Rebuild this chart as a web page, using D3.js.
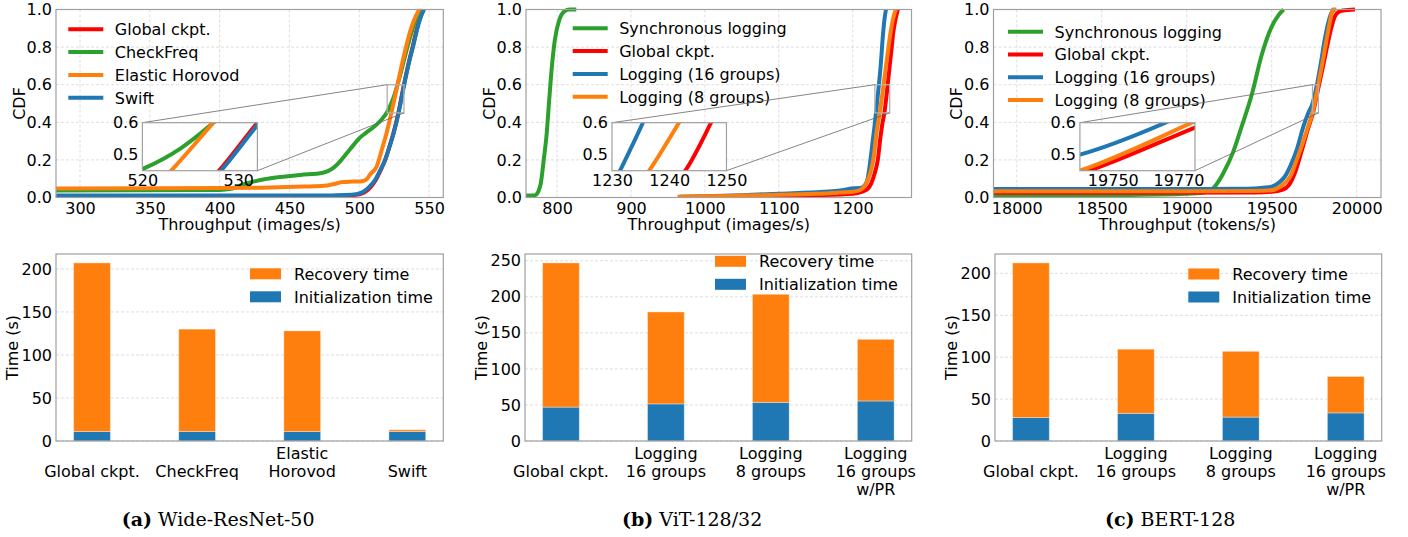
<!DOCTYPE html>
<html>
<head>
<meta charset="utf-8">
<script src="https://cdn.jsdelivr.net/npm/d3@7"></script>
<style>
  body { margin: 0; background: #fff; }
</style>
</head>
<body>
<svg id="chart" width="1408" height="537"></svg>
<script>
// ---- CDF data: [throughput, cdf] ----
// (a) Wide-ResNet-50
const wrnGlobal = [[282,0.008],[470,0.008],[490,0.011],[498,0.015],[503.5,0.027],[507.5,0.05],[511.6,0.09],[515.2,0.143],[518.6,0.2],[521.6,0.27],[524.4,0.34],[528,0.45],[532,0.6],[535.5,0.72],[538.5,0.81],[541,0.89],[543.3,0.95],[546,1.0]];
const wrnCheckFreq = [[282,0.037],[400,0.04],[408,0.046],[415,0.065],[422,0.08],[432,0.097],[441,0.107],[458,0.12],[474,0.132],[481,0.155],[486,0.19],[491,0.235],[496,0.28],[500,0.315],[505,0.345],[512,0.385],[516,0.415],[520,0.455],[524,0.52],[527.4,0.6],[531,0.7],[534.5,0.8],[537.5,0.88],[540.5,0.945],[544.5,1.0]];
const wrnElastic = [[282,0.048],[400,0.05],[430,0.052],[460,0.058],[475,0.062],[482,0.072],[488,0.082],[495,0.085],[502,0.087],[505,0.095],[508,0.125],[512.5,0.165],[516,0.25],[519.8,0.35],[523,0.45],[527.4,0.6],[530.3,0.7],[533.5,0.8],[536.3,0.88],[539.3,0.944],[543,1.0]];
const wrnSwift = [[282,0.01],[470,0.01],[490,0.013],[498,0.018],[503,0.031],[507,0.055],[511.3,0.093],[515,0.145],[518.5,0.2],[521.7,0.27],[524.6,0.34],[528.2,0.45],[532.2,0.6],[535.7,0.72],[538.8,0.81],[541.3,0.89],[543.6,0.95],[546.4,1.0]];

// (b) ViT-128/32
const vitSync = [[758,0.01],[768,0.01],[772,0.016],[775,0.035],[778,0.075],[782,0.2],[786,0.34],[789.4,0.52],[793,0.696],[797,0.838],[803,0.944],[810,0.99],[817,1.0],[826,1.0]];
const vitGlobal = [[965,0.003],[1050,0.005],[1100,0.008],[1150,0.012],[1200,0.02],[1212,0.03],[1220,0.045],[1225,0.075],[1229,0.12],[1233.9,0.2],[1237.5,0.32],[1240,0.39],[1242.8,0.45],[1247.3,0.6],[1250,0.7],[1252.5,0.79],[1254.7,0.873],[1258,0.95],[1261,1.0]];
const vitLog16 = [[966,0.004],[1000,0.006],[1050,0.012],[1100,0.02],[1160,0.03],[1190,0.042],[1198,0.048],[1210,0.05],[1215,0.06],[1219.5,0.09],[1224,0.2],[1227,0.3],[1229.5,0.38],[1231.4,0.45],[1235.4,0.6],[1237.8,0.7],[1241,0.87],[1243,0.95],[1245,1.0]];
const vitLog8 = [[963,0.004],[1000,0.006],[1050,0.01],[1100,0.014],[1150,0.02],[1200,0.03],[1210,0.04],[1216,0.06],[1221,0.1],[1225,0.15],[1228.5,0.22],[1232,0.34],[1236.5,0.45],[1241.7,0.6],[1245,0.7],[1248,0.79],[1251,0.873],[1254.5,0.95],[1258.3,1.0]];

// (c) BERT-128
const bertSync = [[17862,0.008],[18500,0.012],[19000,0.02],[19100,0.027],[19156,0.049],[19186,0.084],[19215,0.129],[19274,0.244],[19323,0.377],[19382,0.545],[19441,0.758],[19500,0.909],[19540,0.97],[19570,1.0]];
const bertGlobal = [[17862,0.025],[19400,0.026],[19500,0.03],[19560,0.04],[19600,0.065],[19640,0.14],[19680,0.26],[19715,0.37],[19740,0.44],[19775,0.585],[19800,0.69],[19825,0.8],[19850,0.9],[19870,0.96],[19890,0.985],[19920,0.995],[19990,1.0]];
const bertLog16 = [[17862,0.045],[19000,0.045],[19300,0.046],[19400,0.048],[19450,0.052],[19500,0.058],[19549,0.084],[19580,0.115],[19608,0.164],[19647,0.253],[19686,0.377],[19715,0.45],[19740,0.5],[19766,0.6],[19790,0.72],[19810,0.83],[19830,0.92],[19850,0.98],[19870,1.0]];
const bertLog8 = [[17862,0.033],[19000,0.033],[19400,0.034],[19500,0.038],[19549,0.057],[19580,0.08],[19608,0.11],[19647,0.2],[19686,0.3],[19715,0.38],[19740,0.45],[19774,0.6],[19795,0.7],[19815,0.8],[19835,0.9],[19848,0.96],[19858,1.0],[19880,1.0]];

const cdfTicks = [0, 0.2, 0.4, 0.6, 0.8, 1.0];
const wrnTicks = [300, 350, 400, 450, 500, 550];
const vitTicks = [800, 900, 1000, 1100, 1200];
const bertTicks = [18000, 18500, 19000, 19500, 20000];

// ---- recovery bar data (seconds) ----
const wrnCats = [["", "Global ckpt."], ["", "CheckFreq"], ["Elastic", "Horovod"], ["", "Swift"]];
const wrnInit = [11, 11, 11, 11];
const wrnRecovery = [196, 119, 117, 2];

const logCats = [["", "Global ckpt."], ["Logging", "16 groups"], ["Logging", "8 groups"], ["Logging", "16 groups", "w/PR"]];
const vitInit = [47, 51.5, 53.5, 55.5];
const vitRecovery = [200, 127.5, 150, 85.5];
const bertInit = [28, 33, 28.5, 33.5];
const bertRecovery = [184.5, 76.5, 78.5, 43.5];

const timeTicks200 = [0, 50, 100, 150, 200];
const timeTicks250 = [0, 50, 100, 150, 200, 250];

// ---- styling ----
const FONT = '"DejaVu Sans", sans-serif';
const FS = 16;
const RED = "#ff0000", GREEN = "#2ca02c", ORANGE = "#ff7f0e", BLUE = "#1f77b4";
const SPINE = "#a0a0a0";
const GRID = "#d6d6d6";

const svg = d3.select("#chart");

function styleAxis(g) {
  g.select(".domain").remove();
  g.attr("font-family", FONT).attr("font-size", FS);
  g.selectAll("text").attr("fill", "#000");
}

// CDF panel
function drawCdf(p) {
  const top = 9.5, bottom = 197.5;
  const x = d3.scaleLinear().domain(p.xDomain).range([p.left, p.right]);
  const y = d3.scaleLinear().domain([0, 1]).range([bottom, top]);
  const w = p.right - p.left;

  svg.append("clipPath").attr("id", "clip-" + p.id)
    .append("rect").attr("x", p.left).attr("y", top - 3)
    .attr("width", w).attr("height", bottom - top + 3);

  const g = svg.append("g");

  // grid
  g.selectAll("line.gx").data(p.xTicks).join("line")
    .attr("x1", d => x(d)).attr("x2", d => x(d))
    .attr("y1", top).attr("y2", bottom)
    .attr("stroke", GRID).attr("stroke-width", 0.8).attr("stroke-dasharray", "3,2");
  g.selectAll("line.gy").data(cdfTicks).join("line")
    .attr("x1", p.left).attr("x2", p.right)
    .attr("y1", d => y(d)).attr("y2", d => y(d))
    .attr("stroke", GRID).attr("stroke-width", 0.8).attr("stroke-dasharray", "3,2");

  const line = d3.line().x(d => x(d[0])).y(d => y(d[1])).curve(d3.curveMonotoneX);

  g.append("g").attr("clip-path", `url(#clip-${p.id})`)
    .selectAll("path").data(p.series).join("path")
    .attr("d", s => line(s.data))
    .attr("fill", "none").attr("stroke", s => s.color).attr("stroke-width", 4);

  // spines
  g.append("rect").attr("x", p.left).attr("y", top).attr("width", w).attr("height", bottom - top)
    .attr("fill", "none").attr("stroke", SPINE).attr("stroke-width", 1.2);

  g.append("g").attr("transform", `translate(0,${bottom})`)
    .call(d3.axisBottom(x).tickValues(p.xTicks).tickSize(0).tickPadding(5.5).tickFormat(d3.format("d")))
    .call(styleAxis);
  g.append("g").attr("transform", `translate(${p.left},0)`)
    .call(d3.axisLeft(y).tickValues(cdfTicks).tickSize(0).tickPadding(4).tickFormat(d3.format(".1f")))
    .call(styleAxis);

  g.append("text").attr("x", (p.left + p.right) / 2).attr("y", 229.5)
    .attr("text-anchor", "middle").attr("font-family", FONT).attr("font-size", FS)
    .text(p.xLabel);
  g.append("text").attr("transform", `translate(${p.left - 31.5},${(top + bottom) / 2}) rotate(-90)`)
    .attr("text-anchor", "middle").attr("font-family", FONT).attr("font-size", FS)
    .text("CDF");

  // legend
  p.series.forEach((s, i) => {
    const ly = p.legendY + i * 22.8;
    g.append("line").attr("x1", p.legendX).attr("x2", p.legendX + 35)
      .attr("y1", ly).attr("y2", ly).attr("stroke", s.color).attr("stroke-width", 4);
    g.append("text").attr("x", p.legendX + 46.5).attr("y", ly + 5.8)
      .attr("font-family", FONT).attr("font-size", FS).text(s.label);
  });

  // zoomed inset
  const ix0 = p.left + 0.223 * w, ix1 = p.left + 0.52 * w;
  const iy0 = 122.7, iy1 = 170.7;
  const ixs = d3.scaleLinear().domain(p.inset.x).range([ix0, ix1]);
  const iys = d3.scaleLinear().domain([0.45, 0.6]).range([iy1, iy0]);

  const rx0 = x(p.inset.x[0]), rx1 = x(p.inset.x[1]);
  const ry0 = y(0.6), ry1 = y(0.45);
  g.append("rect").attr("x", rx0).attr("y", ry0).attr("width", rx1 - rx0).attr("height", ry1 - ry0)
    .attr("fill", "none").attr("stroke", "#b0b0b0").attr("stroke-width", 1.3);
  g.append("line").attr("x1", rx0).attr("y1", ry0).attr("x2", ix0).attr("y2", iy0)
    .attr("stroke", "#666").attr("stroke-width", 0.8);
  g.append("line").attr("x1", rx1).attr("y1", ry1).attr("x2", ix1).attr("y2", iy1)
    .attr("stroke", "#666").attr("stroke-width", 0.8);

  svg.append("clipPath").attr("id", "iclip-" + p.id)
    .append("rect").attr("x", ix0).attr("y", iy0).attr("width", ix1 - ix0).attr("height", iy1 - iy0);

  const ig = svg.append("g");
  ig.append("rect").attr("x", ix0).attr("y", iy0).attr("width", ix1 - ix0).attr("height", iy1 - iy0)
    .attr("fill", "#fff");
  const iline = d3.line().x(d => ixs(d[0])).y(d => iys(d[1])).curve(d3.curveMonotoneX);
  ig.append("g").attr("clip-path", `url(#iclip-${p.id})`)
    .selectAll("path").data(p.series).join("path")
    .attr("d", s => iline(s.data))
    .attr("fill", "none").attr("stroke", s => s.color).attr("stroke-width", 4);
  ig.append("rect").attr("x", ix0).attr("y", iy0).attr("width", ix1 - ix0).attr("height", iy1 - iy0)
    .attr("fill", "none").attr("stroke", SPINE).attr("stroke-width", 1.2);
  ig.append("g").attr("transform", `translate(0,${iy1})`)
    .call(d3.axisBottom(ixs).tickValues(p.inset.ticks).tickSize(0).tickPadding(4.3).tickFormat(d3.format("d")))
    .call(styleAxis);
  ig.append("g").attr("transform", `translate(${ix0},0)`)
    .call(d3.axisLeft(iys).tickValues([0.5, 0.6]).tickSize(0).tickPadding(4).tickFormat(d3.format(".1f")))
    .call(styleAxis);
}

// stacked recovery-time bars
function drawBars(p) {
  const top = 254, bottom = 441;
  const totals = p.init.map((v, i) => v + p.recovery[i]);
  const x = d3.scaleLinear().domain([-0.3425, 3.3425]).range([p.left, p.right]);
  const y = d3.scaleLinear().domain([0, d3.max(totals) * 1.05]).range([bottom, top]);
  const bw = x(0.35) - x(0);
  const g = svg.append("g");

  g.selectAll("line.gy").data(p.ticks).join("line")
    .attr("x1", p.left).attr("x2", p.right)
    .attr("y1", d => y(d)).attr("y2", d => y(d))
    .attr("stroke", GRID).attr("stroke-width", 0.8).attr("stroke-dasharray", "3,2");

  const idx = d3.range(p.init.length);
  g.selectAll("rect.init").data(idx).join("rect")
    .attr("x", i => x(i) - bw / 2).attr("width", bw)
    .attr("y", i => y(p.init[i])).attr("height", i => y(0) - y(p.init[i]))
    .attr("fill", BLUE).attr("stroke", "rgba(255,255,255,0.35)").attr("stroke-width", 1);
  g.selectAll("rect.rec").data(idx).join("rect")
    .attr("x", i => x(i) - bw / 2).attr("width", bw)
    .attr("y", i => y(totals[i])).attr("height", i => y(p.init[i]) - y(totals[i]))
    .attr("fill", ORANGE).attr("stroke", "rgba(255,255,255,0.35)").attr("stroke-width", 1);

  g.append("rect").attr("x", p.left).attr("y", top).attr("width", p.right - p.left).attr("height", bottom - top)
    .attr("fill", "none").attr("stroke", SPINE).attr("stroke-width", 1.2);

  g.append("g").attr("transform", `translate(${p.left},0)`)
    .call(d3.axisLeft(y).tickValues(p.ticks).tickSize(0).tickPadding(4))
    .call(styleAxis);

  // multi-line category labels
  p.cats.forEach((lines, i) => {
    const t = g.append("text").attr("text-anchor", "middle")
      .attr("font-family", FONT).attr("font-size", FS);
    lines.forEach((ln, k) => {
      t.append("tspan").attr("x", x(i)).attr("y", 458.6 + k * 18).text(ln);
    });
  });

  g.append("text").attr("transform", `translate(${p.left - 38},${(top + bottom) / 2}) rotate(-90)`)
    .attr("text-anchor", "middle").attr("font-family", FONT).attr("font-size", FS)
    .text("Time (s)");

  // legend
  [["Recovery time", ORANGE], ["Initialization time", BLUE]].forEach(([label, color], i) => {
    const ly = p.legendY + i * 23;
    g.append("rect").attr("x", p.legendX).attr("y", ly - 5.5).attr("width", 31).attr("height", 11)
      .attr("fill", color);
    g.append("text").attr("x", p.legendX + 44).attr("y", ly + 5.8)
      .attr("font-family", FONT).attr("font-size", FS).text(label);
  });
}

drawCdf({
  id: "a", left: 56, right: 443.3, xDomain: [282.8, 560.2], xTicks: wrnTicks,
  xLabel: "Throughput (images/s)", legendX: 68.3, legendY: 29.3,
  series: [
    { label: "Global ckpt.", color: RED, data: wrnGlobal },
    { label: "CheckFreq", color: GREEN, data: wrnCheckFreq },
    { label: "Elastic Horovod", color: ORANGE, data: wrnElastic },
    { label: "Swift", color: BLUE, data: wrnSwift }
  ],
  inset: { x: [520, 532], ticks: [520, 530] }
});

drawCdf({
  id: "b", left: 526, right: 911.5, xDomain: [758, 1279.5], xTicks: vitTicks,
  xLabel: "Throughput (images/s)", legendX: 572.7, legendY: 28.3,
  series: [
    { label: "Synchronous logging", color: GREEN, data: vitSync },
    { label: "Global ckpt.", color: RED, data: vitGlobal },
    { label: "Logging (16 groups)", color: BLUE, data: vitLog16 },
    { label: "Logging (8 groups)", color: ORANGE, data: vitLog8 }
  ],
  inset: { x: [1230, 1250], ticks: [1230, 1240, 1250] }
});

drawCdf({
  id: "c", left: 993.5, right: 1381, xDomain: [17863, 20143], xTicks: bertTicks,
  xLabel: "Throughput (tokens/s)", legendX: 1008, legendY: 31.7,
  series: [
    { label: "Synchronous logging", color: GREEN, data: bertSync },
    { label: "Global ckpt.", color: RED, data: bertGlobal },
    { label: "Logging (16 groups)", color: BLUE, data: bertLog16 },
    { label: "Logging (8 groups)", color: ORANGE, data: bertLog8 }
  ],
  inset: { x: [19740, 19775], ticks: [19750, 19770] }
});

drawBars({ left: 56, right: 443.3, cats: wrnCats, init: wrnInit, recovery: wrnRecovery,
  ticks: timeTicks200, legendX: 250, legendY: 273.8 });
drawBars({ left: 525, right: 911.7, cats: logCats, init: vitInit, recovery: vitRecovery,
  ticks: timeTicks250, legendX: 715, legendY: 261.3 });
drawBars({ left: 995, right: 1381.7, cats: logCats, init: bertInit, recovery: bertRecovery,
  ticks: timeTicks200, legendX: 1188.3, legendY: 274 });

// sub-figure captions
[["(a)", " Wide-ResNet-50", 121.7], ["(b)", " ViT-128/32", 622], ["(c)", " BERT-128", 1105]]
  .forEach(([tag, name, cx]) => {
    const t = svg.append("text").attr("x", cx).attr("y", 526)
      .attr("font-family", '"DejaVu Serif", serif').attr("font-size", 19);
    t.append("tspan").attr("font-weight", "bold").text(tag);
    t.append("tspan").text(name);
  });
</script>
</body>
</html>
